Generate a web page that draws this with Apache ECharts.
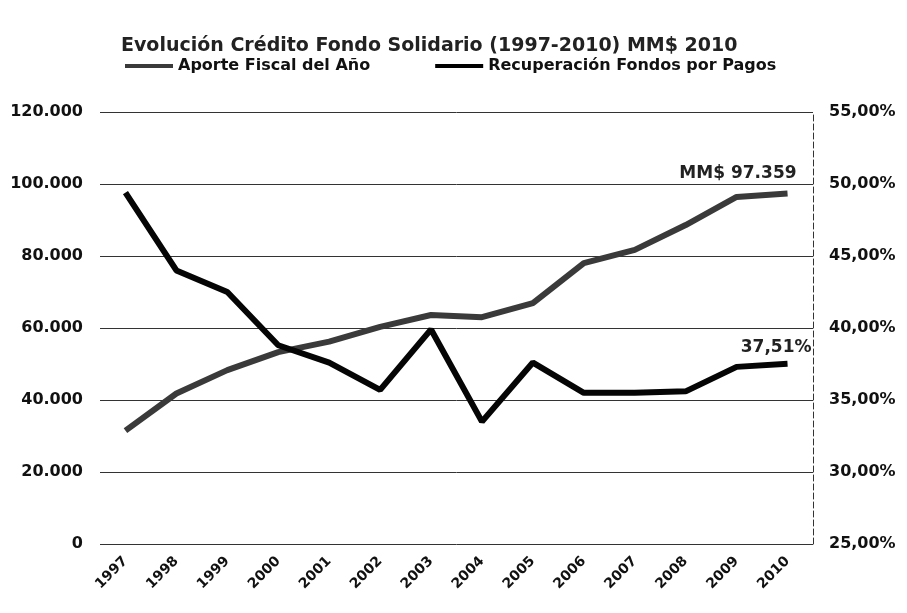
<!DOCTYPE html>
<html>
<head>
<meta charset="utf-8">
<script src="https://cdn.jsdelivr.net/npm/echarts@6/dist/echarts.min.js"></script>
<style>
  html, body { margin: 0; padding: 0; background: #fff; }
  #chart { width: 907px; height: 613px; }
</style>
</head>
<body>
<div id="chart"></div>
<script>
const years = ['1997', '1998', '1999', '2000', '2001', '2002', '2003', '2004', '2005', '2006', '2007', '2008', '2009', '2010']
// MM$ 2010
const aporteFiscal = [31500, 41800, 48300, 53300, 56200, 60300, 63600, 63000, 66900, 78000, 81700, 88600, 96400, 97359]
// %
const recuperacion = [49.4, 44.0, 42.5, 38.8, 37.6, 35.7, 39.9, 33.5, 37.6, 35.5, 35.5, 35.6, 37.3, 37.51]

const leftTicks = [0, 20000, 40000, 60000, 80000, 100000, 120000]
const rightTicks = [25, 30, 35, 40, 45, 50, 55]

const FONT = '"DejaVu Sans", Verdana, sans-serif'

const fmtThousands = (v) => (v === 0 ? '0' : String(v).replace(/\B(?=(\d{3})+(?!\d))/g, '.'))
const fmtPct = (v) => v.toFixed(2).replace('.', ',') + '%'

const axisLabelStyle = {
  fontFamily: FONT,
  fontWeight: 'bold',
  fontSize: 16,
  color: '#111',
}

const endLabelStyle = {
  show: true,
  distance: 0,
  align: 'right',
  verticalAlign: 'bottom',
  fontFamily: FONT,
  fontWeight: 'bold',
  fontSize: 17,
  color: '#222',
}

const option = {
  backgroundColor: '#fff',
  animation: false,
  title: {
    text: 'Evolución Crédito Fondo Solidario (1997-2010) MM$ 2010',
    left: 116,
    top: 32,
    textStyle: {
      fontFamily: FONT,
      fontWeight: 'bold',
      fontSize: 19,
      color: '#222',
    },
  },
  legend: {
    top: 53,
    left: 120,
    itemGap: 65,
    itemWidth: 48,
    itemHeight: 4,
    icon: 'rect',
    textStyle: {
      fontFamily: FONT,
      fontWeight: 'bold',
      fontSize: 16,
      color: '#111',
    },
    data: ['Aporte Fiscal del Año', 'Recuperación Fondos por Pagos'],
  },
  grid: {
    left: 100,
    right: 94,
    top: 112,
    bottom: 69,
  },
  xAxis: {
    type: 'category',
    data: years,
    boundaryGap: true,
    axisLine: { show: false },
    axisTick: { show: false },
    axisLabel: {
      ...axisLabelStyle,
      fontSize: 14,
      rotate: 45,
      margin: 15,
      interval: 0,
    },
  },
  yAxis: [
    {
      type: 'value',
      min: leftTicks[0],
      max: leftTicks[leftTicks.length - 1],
      interval: leftTicks[1] - leftTicks[0],
      axisLine: { show: false },
      axisTick: { show: false },
      axisLabel: {
        ...axisLabelStyle,
        margin: 17,
        formatter: fmtThousands,
      },
      splitLine: {
        lineStyle: { color: '#333', width: 1 },
      },
    },
    {
      type: 'value',
      position: 'right',
      min: rightTicks[0],
      max: rightTicks[rightTicks.length - 1],
      interval: rightTicks[1] - rightTicks[0],
      axisLine: {
        show: true,
        lineStyle: { color: '#333', width: 1, type: [6, 3] },
      },
      axisTick: {
        show: true,
        inside: true,
        length: 4,
        lineStyle: { color: '#333' },
      },
      axisLabel: {
        ...axisLabelStyle,
        margin: 16,
        formatter: fmtPct,
      },
      splitLine: { show: false },
    },
  ],
  series: [
    {
      name: 'Aporte Fiscal del Año',
      type: 'line',
      yAxisIndex: 0,
      symbol: 'none',
      color: '#3a3a3a',
      lineStyle: { width: 6, color: '#3a3a3a' },
      data: aporteFiscal,
      endLabel: {
        ...endLabelStyle,
        offset: [9, -11],
        formatter: (p) => 'MM$ ' + fmtThousands(p.value),
      },
      z: 3,
    },
    {
      name: 'Recuperación Fondos por Pagos',
      type: 'line',
      yAxisIndex: 1,
      symbol: 'none',
      color: '#000',
      lineStyle: { width: 6, color: '#050505' },
      data: recuperacion,
      endLabel: {
        ...endLabelStyle,
        offset: [24, -8],
        formatter: (p) => fmtPct(p.value),
      },
      z: 4,
    },
  ],
}

const chart = echarts.init(document.getElementById('chart'))
chart.setOption(option)
</script>
</body>
</html>
